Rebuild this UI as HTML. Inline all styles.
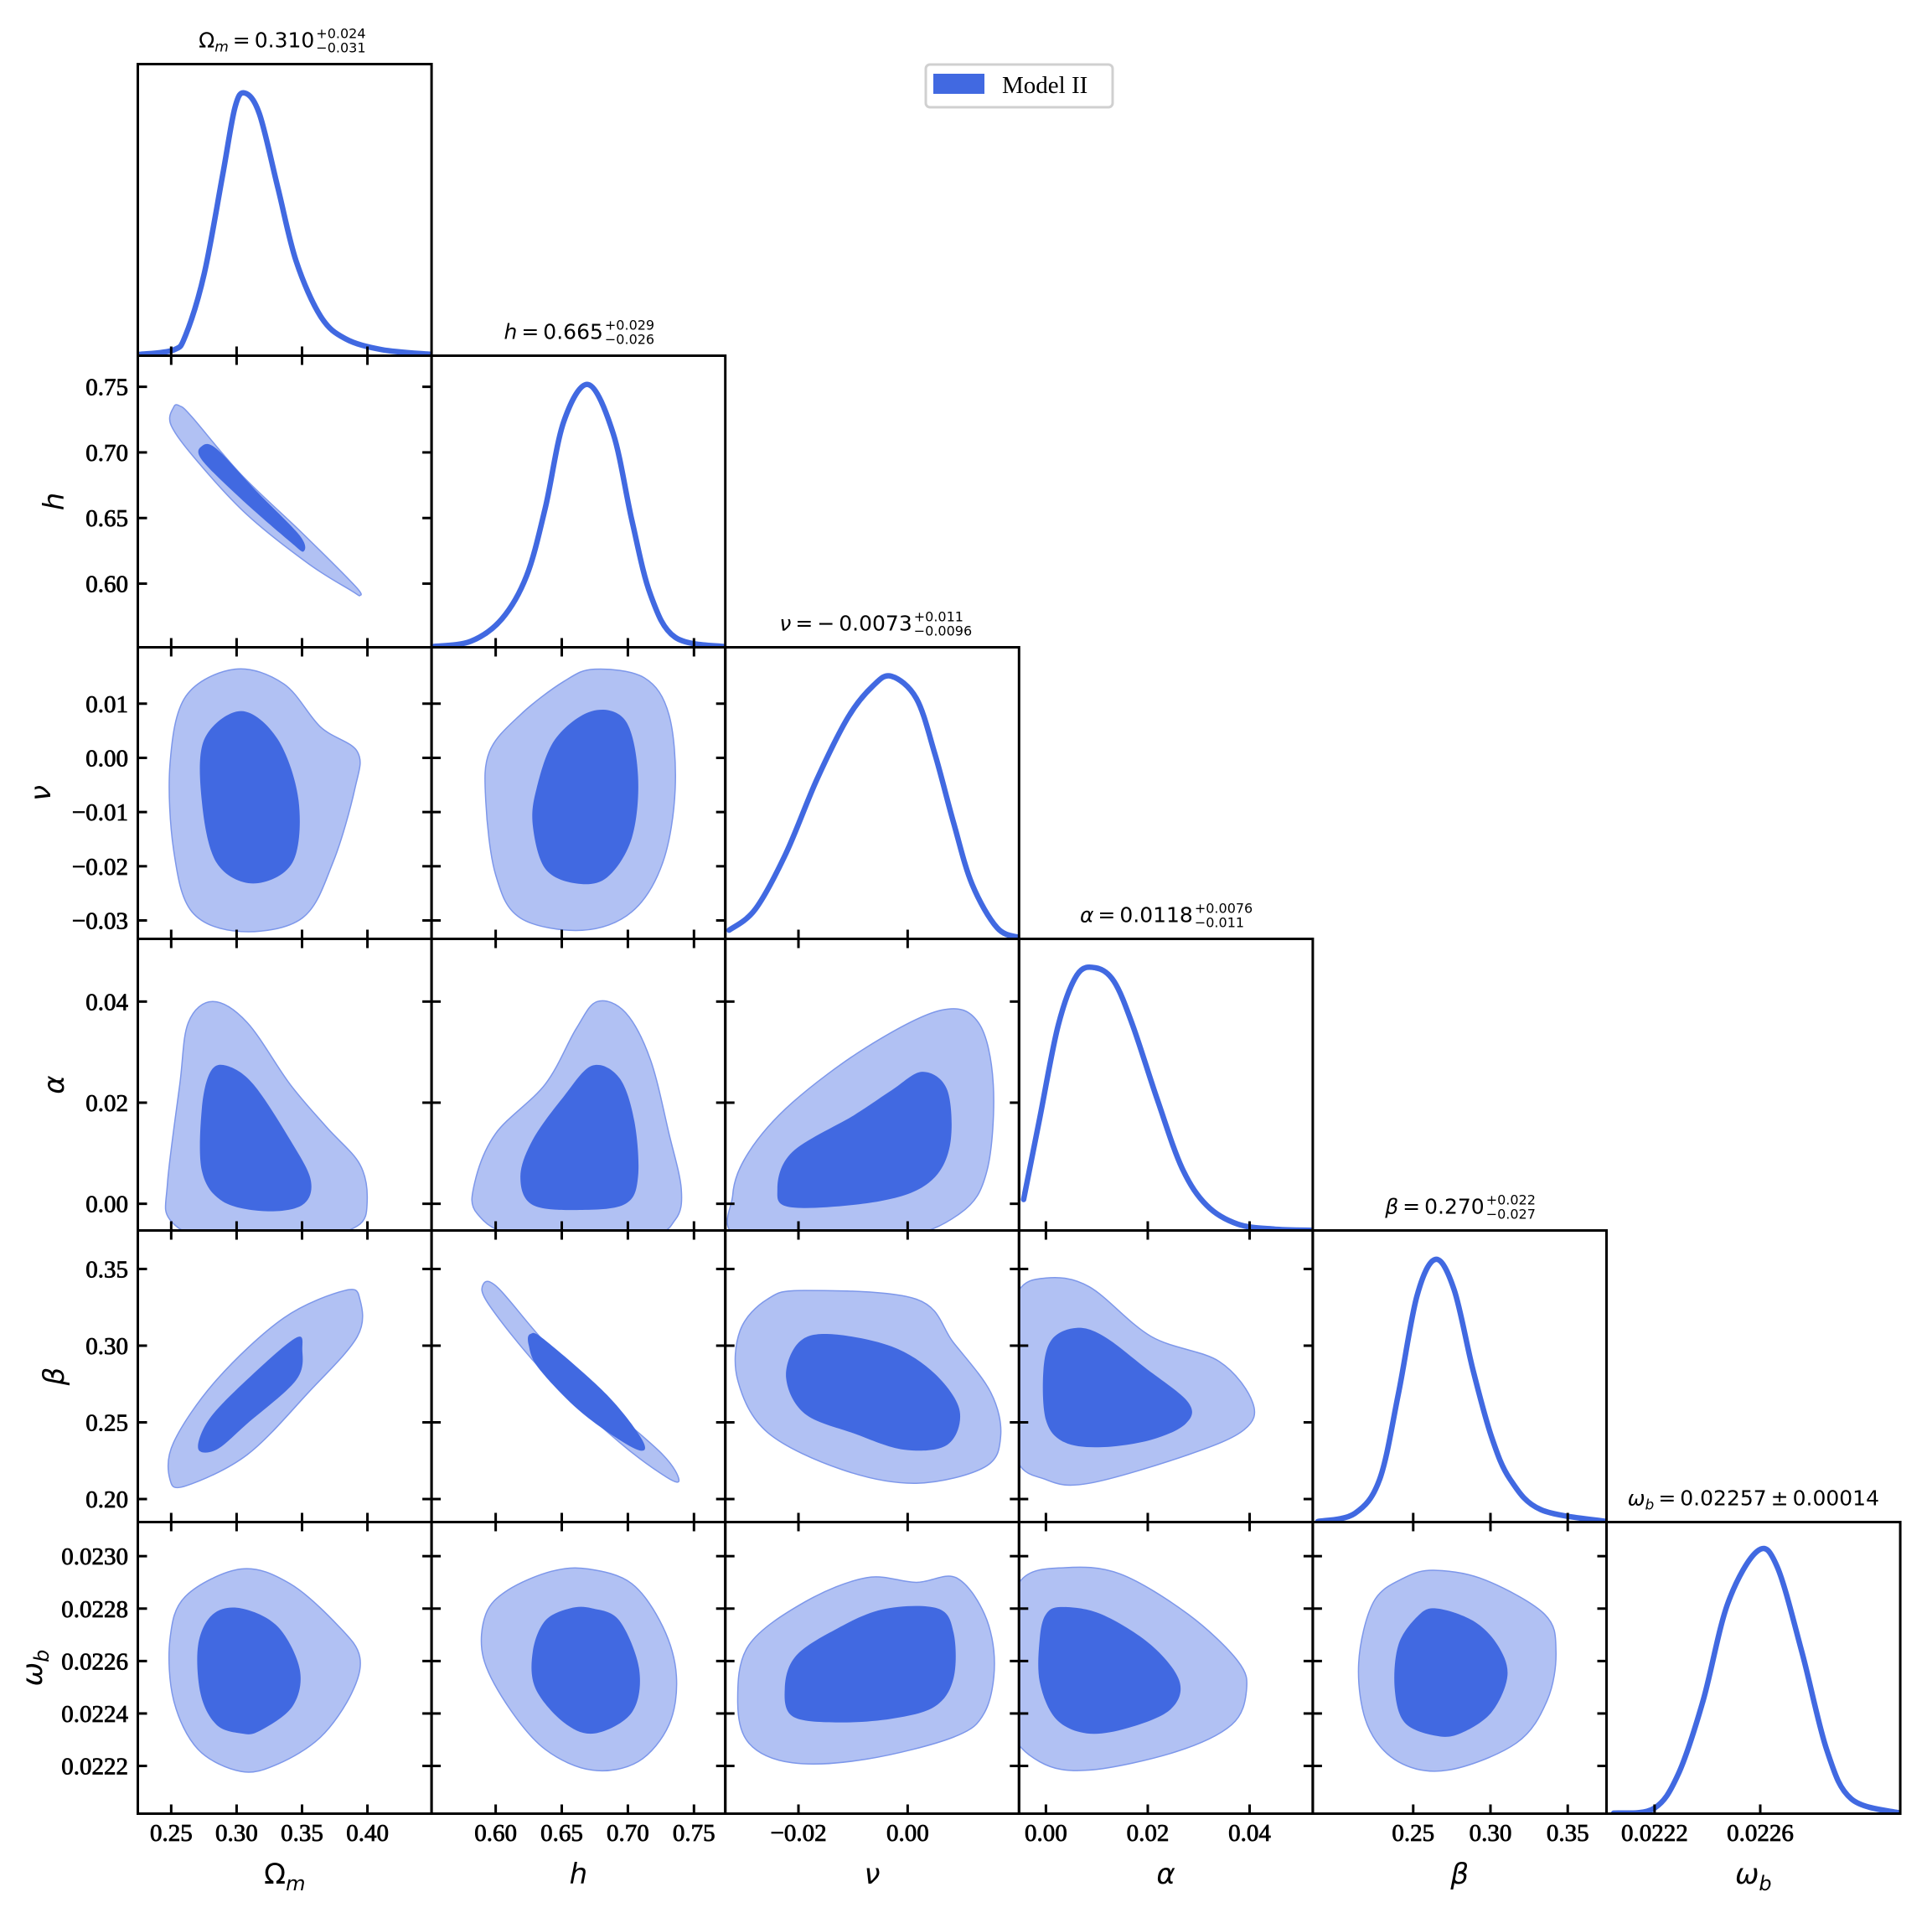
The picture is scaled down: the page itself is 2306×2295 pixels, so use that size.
<!DOCTYPE html>
<html><head><meta charset="utf-8"><title>Model II triangle plot</title>
<style>
html,body{margin:0;padding:0;background:#fff;}
svg{display:block;}
.tick{font-family:"Liberation Serif","DejaVu Serif",serif;font-size:29px;fill:#000;stroke:#000;stroke-width:0.8;}
.ttl{font-family:"DejaVu Sans","Liberation Sans",sans-serif;font-size:25px;fill:#000;}
.ttls{font-family:"DejaVu Sans","Liberation Sans",sans-serif;font-size:16px;fill:#000;}
.ax{font-family:"DejaVu Sans","Liberation Sans",sans-serif;font-size:34px;fill:#000;}
</style></head>
<body>
<svg id="fig" width="2306" height="2295" viewBox="0 0 2306 2295" xmlns="http://www.w3.org/2000/svg">
<rect x="0" y="0" width="2306" height="2295" fill="#fff"/>
<g id="legend">
<rect x="1105" y="77" width="223" height="51" rx="5" fill="#fff" stroke="#d0d0d0" stroke-width="3"/>
<rect x="1114" y="88" width="61" height="24" fill="#4169E1"/>
<text x="1196" y="111" font-family="Liberation Serif, DejaVu Serif, serif" font-size="29">Model II</text>
</g>
</svg>
<script>
// ---- parameter ranges and ticks ----
var paramNames = ["omegam","h","nu","alpha","beta","omegab"];
var rangeLo = [0.2245, 0.5515, -0.0334, -0.00528, 0.1850, 0.022018];
var rangeHi = [0.4490, 0.7737, 0.0204, 0.0524, 0.3751, 0.023130];
var xTicks = [[0.25,0.30,0.35,0.40],[0.60,0.65,0.70,0.75],[-0.02,0.00],[0.00,0.02,0.04],[0.25,0.30,0.35],[0.0222,0.0226]];
var xTickLabels = [["0.25","0.30","0.35","0.40"],["0.60","0.65","0.70","0.75"],["\u22120.02","0.00"],["0.00","0.02","0.04"],["0.25","0.30","0.35"],["0.0222","0.0226"]];
var yTicks = [[],[0.60,0.65,0.70,0.75],[-0.03,-0.02,-0.01,0.00,0.01],[0.00,0.02,0.04],[0.20,0.25,0.30,0.35],[0.0222,0.0224,0.0226,0.0228,0.0230]];
var yTickLabels = [[],["0.60","0.65","0.70","0.75"],["\u22120.03","\u22120.02","\u22120.01","0.00","0.01"],["0.00","0.02","0.04"],["0.20","0.25","0.30","0.35"],["0.0222","0.0224","0.0226","0.0228","0.0230"]];

// ---- 1D marginal densities (x values, normalized heights) ----
var m1x_omegam = [0.2257,0.2519,0.2612,0.2753,0.2893,0.2987,0.3062,0.3174,0.3315,0.3455,0.3642,0.3830,0.4110,0.4485];
var m1y_omegam = [0.005,0.022,0.08,0.313,0.687,0.944,1,0.921,0.64,0.36,0.15,0.065,0.023,0.005];
var m1x_h = [0.5532,0.5813,0.6047,0.6234,0.6375,0.6515,0.6702,0.6890,0.7030,0.7170,0.7358,0.7737];
var m1y_h = [0.003,0.023,0.108,0.272,0.53,0.859,1,0.812,0.484,0.202,0.038,0.002];
var m1x_nu = [-0.0327,-0.0279,-0.0223,-0.0166,-0.0109,-0.0064,-0.0030,0.0016,0.0050,0.0084,0.0118,0.0164,0.0204];
var m1y_nu = [0.033,0.113,0.325,0.608,0.844,0.962,1,0.915,0.703,0.443,0.208,0.042,0.005];
var m1x_alpha = [-0.00438,-0.00122,0.00243,0.00608,0.00972,0.01337,0.01702,0.02188,0.02674,0.0316,0.03768,0.04497,0.0524];
var m1y_alpha = [0.118,0.427,0.782,0.972,1,0.948,0.782,0.498,0.237,0.095,0.024,0.005,0.001];
var m1x_beta = [0.1882,0.2122,0.2283,0.2404,0.2524,0.2645,0.2765,0.2886,0.3006,0.3127,0.3327,0.3751];
var m1y_beta = [0.002,0.033,0.163,0.488,0.86,1,0.884,0.581,0.326,0.163,0.047,0.002];
var m1x_omegab = [0.022045,0.022196,0.022289,0.022383,0.022477,0.022590,0.022664,0.022758,0.022852,0.022945,0.02313];
var m1y_omegab = [0.002,0.019,0.149,0.428,0.8,1,0.94,0.614,0.242,0.056,0.002];

// ---- 2D contours: [x, y] in data units; outer = 95%, inner = 68% ----
var c_h_omegam_out = [[0.2519,0.7345],[0.25,0.7205],[0.2706,0.6925],[0.308,0.6525],[0.3549,0.6152],[0.3876,0.5947],[0.3942,0.591],[0.3904,0.5984],[0.3502,0.6385],[0.3034,0.6832],[0.2659,0.727],[0.2566,0.7354]];
var c_h_omegam_in = [[0.2734,0.7047],[0.2734,0.6944],[0.3034,0.6646],[0.3408,0.632],[0.3511,0.6245],[0.3483,0.6366],[0.3146,0.6711],[0.2846,0.7028]];
var c_nu_omegam_out = [[0.2987,0.01636],[0.3361,0.01364],[0.3642,0.00568],[0.3923,0.00114],[0.3904,-0.00568],[0.3736,-0.01932],[0.3502,-0.02955],[0.3034,-0.03205],[0.2659,-0.02841],[0.2519,-0.01705],[0.2491,-0.00114],[0.2612,0.01136]];
var c_nu_omegam_in = [[0.3034,0.00864],[0.3315,0.00341],[0.3474,-0.00795],[0.3427,-0.01932],[0.3127,-0.02318],[0.2846,-0.01932],[0.2734,-0.00795],[0.2753,0.00341]];
var c_alpha_omegam_out = [[0.2818,0.04],[0.3081,0.03585],[0.3408,0.02366],[0.3689,0.01512],[0.3942,0.0078],[0.3998,0.00049],[0.3923,-0.00439],[0.3549,-0.00683],[0.28,-0.00683],[0.2491,-0.00317],[0.2472,0.00415],[0.2566,0.02366],[0.2631,0.03585]];
var c_alpha_omegam_in = [[0.2921,0.02732],[0.3127,0.02366],[0.3408,0.01268],[0.3567,0.00463],[0.3502,-0.00024],[0.3221,-0.00146],[0.2893,0.00049],[0.2734,0.00659],[0.2734,0.01878],[0.28,0.0261]];
var c_beta_omegam_out = [[0.2491,0.2127],[0.2519,0.237],[0.2846,0.2776],[0.3361,0.3181],[0.3829,0.336],[0.3942,0.3303],[0.3923,0.306],[0.3549,0.2695],[0.3081,0.2289],[0.2612,0.2086]];
var c_beta_omegam_in = [[0.2706,0.233],[0.28,0.2532],[0.3127,0.2816],[0.3455,0.3052],[0.3502,0.2978],[0.3455,0.2776],[0.3081,0.2492],[0.2846,0.2322]];
var c_omegab_omegam_out = [[0.3034,0.022951],[0.3408,0.022895],[0.3783,0.022731],[0.3942,0.022614],[0.3876,0.022474],[0.3642,0.02231],[0.3315,0.022207],[0.3034,0.022179],[0.2706,0.022263],[0.2519,0.02245],[0.2491,0.022684],[0.2612,0.022848]];
var c_omegab_omegam_in = [[0.3034,0.022801],[0.3315,0.022731],[0.3483,0.022567],[0.3427,0.022427],[0.3174,0.022333],[0.3034,0.022324],[0.2846,0.022357],[0.2725,0.022474],[0.2706,0.022661],[0.2818,0.022778]];
var c_nu_h_out = [[0.6749,0.01636],[0.7124,0.01477],[0.7311,0.00795],[0.7358,-0.00568],[0.7264,-0.01932],[0.703,-0.02841],[0.6655,-0.03182],[0.6187,-0.02955],[0.6,-0.02159],[0.5925,-0.00795],[0.5953,0.00114],[0.6187,0.00795],[0.6515,0.01409]];
var c_nu_h_in = [[0.673,0.00864],[0.6983,0.00682],[0.7077,-0.00341],[0.703,-0.01477],[0.6843,-0.02205],[0.6609,-0.02318],[0.6375,-0.02045],[0.6281,-0.0125],[0.6309,-0.00568],[0.6449,0.00341]];
var c_alpha_h_out = [[0.6768,0.04],[0.6983,0.0378],[0.717,0.02854],[0.7311,0.0139],[0.7404,0.00293],[0.7358,-0.00317],[0.7124,-0.00634],[0.6187,-0.00634],[0.586,-0.00195],[0.5841,0.00415],[0.6,0.0139],[0.6375,0.02366],[0.6609,0.03463]];
var c_alpha_h_in = [[0.673,0.02732],[0.6936,0.02488],[0.7049,0.01634],[0.7077,0.00537],[0.6983,0],[0.6655,-0.00122],[0.6281,-0.00024],[0.6187,0.00537],[0.6281,0.01268],[0.6515,0.02122]];
var c_beta_h_out = [[0.5906,0.34],[0.6019,0.3376],[0.6375,0.3019],[0.6843,0.2614],[0.7264,0.2289],[0.7386,0.2127],[0.7292,0.2143],[0.6936,0.237],[0.6375,0.2816],[0.5953,0.3262]];
var c_beta_h_in = [[0.6262,0.3076],[0.6375,0.3035],[0.6843,0.2678],[0.7115,0.2375],[0.7049,0.2330],[0.6655,0.2560],[0.6328,0.2850],[0.6250,0.3003]];
var c_omegab_h_out = [[0.6702,0.022951],[0.703,0.022895],[0.7264,0.022731],[0.7367,0.022544],[0.7311,0.022357],[0.7077,0.022216],[0.673,0.022184],[0.6375,0.022263],[0.6094,0.022427],[0.5906,0.022614],[0.5925,0.022778],[0.6094,0.022871],[0.6421,0.022942]];
var c_omegab_h_in = [[0.673,0.022801],[0.6936,0.022754],[0.7086,0.022567],[0.703,0.022404],[0.6749,0.022324],[0.6515,0.022366],[0.63,0.022497],[0.6281,0.022637],[0.6375,0.022754],[0.6562,0.022801]];
var c_alpha_nu_out = [[0.00613,0.03829],[0.01295,0.03585],[0.01568,0.02366],[0.01454,0.00659],[0.00954,-0.00195],[-0.00295,-0.00683],[-0.03022,-0.00683],[-0.03204,0.00171],[-0.02908,0.01024],[-0.02113,0.02],[-0.0075,0.03098]];
var c_alpha_nu_in = [[0.00273,0.0261],[0.00727,0.02244],[0.00773,0.01146],[0.00386,0.00415],[-0.00523,0.00049],[-0.02113,-0.00073],[-0.02386,0.00293],[-0.02113,0.01024],[-0.00977,0.01756],[-0.00295,0.02244]];
var c_beta_nu_out = [[-0.01886,0.336],[0.00159,0.3303],[0.00841,0.3019],[0.01522,0.2695],[0.01704,0.2411],[0.01409,0.2208],[0.00159,0.2103],[-0.01204,0.2192],[-0.02568,0.2435],[-0.03113,0.2776],[-0.03067,0.31],[-0.02568,0.3303]];
var c_beta_nu_in = [[-0.01431,0.3076],[-0.00295,0.2995],[0.005,0.2816],[0.00954,0.2573],[0.00727,0.2354],[-0.00068,0.2322],[-0.00977,0.2427],[-0.01886,0.2557],[-0.02227,0.2792],[-0.02,0.3019]];
var c_omegab_nu_out = [[0.00159,0.0229],[0.00886,0.022918],[0.01409,0.022778],[0.0159,0.022591],[0.01409,0.022404],[0.00841,0.02231],[-0.0075,0.022226],[-0.02113,0.022212],[-0.02908,0.022287],[-0.03113,0.02245],[-0.02908,0.022661],[-0.01886,0.022825],[-0.0075,0.022918]];
var c_omegab_nu_in = [[0.00545,0.022801],[0.00841,0.022708],[0.00841,0.022535],[0.005,0.022427],[-0.00295,0.02238],[-0.01318,0.022366],[-0.02113,0.02239],[-0.0225,0.022497],[-0.02068,0.022614],[-0.01431,0.022708],[-0.00477,0.022796]];
var c_beta_alpha_out = [[0,0.3441],[0.00851,0.3384],[0.02066,0.306],[0.03403,0.2897],[0.04059,0.263],[0.03889,0.2451],[0.02795,0.2289],[0.00851,0.2103],[0,0.2127],[-0.00608,0.2289],[-0.00729,0.2938],[-0.00559,0.3343]];
var c_beta_alpha_in = [[0.00608,0.3116],[0.01142,0.306],[0.01945,0.2857],[0.02795,0.263],[0.02747,0.2492],[0.02066,0.2386],[0.01094,0.2338],[0.00365,0.237],[0,0.2516],[-0.00049,0.2841],[0.00122,0.3043]];
var c_omegab_alpha_out = [[0.00365,0.022956],[0.01458,0.022932],[0.02795,0.022778],[0.03768,0.0226],[0.03938,0.022488],[0.03646,0.022357],[0.02552,0.022254],[0.00851,0.022184],[-0.00122,0.022216],[-0.00729,0.022357],[-0.00851,0.022684],[-0.00486,0.022909]];
var c_omegab_alpha_in = [[0.00316,0.022806],[0.01094,0.022778],[0.02066,0.022661],[0.02625,0.022521],[0.02431,0.022413],[0.0158,0.022343],[0.00802,0.022324],[0.00194,0.02238],[-0.00122,0.022521],[-0.00122,0.022684],[0,0.022778]];
var c_omegab_beta_out = [[0.2645,0.022946],[0.2966,0.022909],[0.3351,0.022778],[0.3424,0.022637],[0.3367,0.02245],[0.3167,0.022287],[0.2725,0.022184],[0.2404,0.022216],[0.2203,0.022357],[0.2147,0.022591],[0.2243,0.022825],[0.2444,0.022918]];
var c_omegab_beta_in = [[0.2645,0.022801],[0.2886,0.022754],[0.3046,0.022661],[0.311,0.022544],[0.3006,0.022404],[0.2805,0.022324],[0.2645,0.022315],[0.2444,0.022366],[0.238,0.022497],[0.2404,0.022661],[0.2524,0.022768]];

var NS = "http://www.w3.org/2000/svg";
var svg = document.getElementById("fig");
var X0 = 164.5, W = 350.6, Y0 = 76.5, H = 348;
var BLUE = "#4169E1", LIGHT = "#b1c1f3";
var marg = {
  0:[m1x_omegam,m1y_omegam],1:[m1x_h,m1y_h],2:[m1x_nu,m1y_nu],
  3:[m1x_alpha,m1y_alpha],4:[m1x_beta,m1y_beta],5:[m1x_omegab,m1y_omegab]
};
var contours = {
  "1_0":[c_h_omegam_out,c_h_omegam_in],"2_0":[c_nu_omegam_out,c_nu_omegam_in],
  "3_0":[c_alpha_omegam_out,c_alpha_omegam_in],"4_0":[c_beta_omegam_out,c_beta_omegam_in],
  "5_0":[c_omegab_omegam_out,c_omegab_omegam_in],"2_1":[c_nu_h_out,c_nu_h_in],
  "3_1":[c_alpha_h_out,c_alpha_h_in],"4_1":[c_beta_h_out,c_beta_h_in],
  "5_1":[c_omegab_h_out,c_omegab_h_in],"3_2":[c_alpha_nu_out,c_alpha_nu_in],
  "4_2":[c_beta_nu_out,c_beta_nu_in],"5_2":[c_omegab_nu_out,c_omegab_nu_in],
  "4_3":[c_beta_alpha_out,c_beta_alpha_in],"5_3":[c_omegab_alpha_out,c_omegab_alpha_in],
  "5_4":[c_omegab_beta_out,c_omegab_beta_in]
};
function mk(tag, attrs, parent){
  var e = document.createElementNS(NS, tag);
  for (var k in attrs) e.setAttribute(k, attrs[k]);
  (parent||svg).appendChild(e);
  return e;
}
function sx(p, c, v){ return X0 + c*W + (v-rangeLo[p])/(rangeHi[p]-rangeLo[p])*W; }
function sy(p, r, v){ return Y0 + (r+1)*H - (v-rangeLo[p])/(rangeHi[p]-rangeLo[p])*H; }
function closedPath(pts){
  var n = pts.length, d = "M"+pts[0][0].toFixed(2)+","+pts[0][1].toFixed(2);
  for (var i=0;i<n;i++){
    var p0=pts[(i-1+n)%n], p1=pts[i], p2=pts[(i+1)%n], p3=pts[(i+2)%n];
    var c1x=p1[0]+(p2[0]-p0[0])/6, c1y=p1[1]+(p2[1]-p0[1])/6;
    var c2x=p2[0]-(p3[0]-p1[0])/6, c2y=p2[1]-(p3[1]-p1[1])/6;
    d += "C"+c1x.toFixed(2)+","+c1y.toFixed(2)+" "+c2x.toFixed(2)+","+c2y.toFixed(2)+" "+p2[0].toFixed(2)+","+p2[1].toFixed(2);
  }
  return d+"Z";
}
function openPath(pts){
  var n = pts.length, d = "M"+pts[0][0].toFixed(2)+","+pts[0][1].toFixed(2);
  for (var i=0;i<n-1;i++){
    var p0=pts[Math.max(i-1,0)], p1=pts[i], p2=pts[i+1], p3=pts[Math.min(i+2,n-1)];
    var c1x=p1[0]+(p2[0]-p0[0])/6, c1y=p1[1]+(p2[1]-p0[1])/6;
    var c2x=p2[0]-(p3[0]-p1[0])/6, c2y=p2[1]-(p3[1]-p1[1])/6;
    d += "C"+c1x.toFixed(2)+","+c1y.toFixed(2)+" "+c2x.toFixed(2)+","+c2y.toFixed(2)+" "+p2[0].toFixed(2)+","+p2[1].toFixed(2);
  }
  return d;
}
var defs = mk("defs", {});
var TL = 11;
for (var r=0;r<6;r++){
  for (var c=0;c<=r;c++){
    var px = X0+c*W, py = Y0+r*H;
    var g = mk("g", {});
    
    
    var cp = mk("clipPath", {id:"clip"+r+"_"+c}, defs);
    mk("rect", {x:px, y:py, width:W, height:H}, cp);
    var inner = mk("g", {"clip-path":"url(#clip"+r+"_"+c+")"}, g);
    if (r===c){
      var mx = marg[r][0], my = marg[r][1], pts=[];
      for (var i=0;i<mx.length;i++){
        pts.push([sx(r,c,mx[i]), py+H - my[i]/1.11*H]);
      }
      var ln = mk("path", {d:openPath(pts), fill:"none", stroke:BLUE, "stroke-width":6.5, "stroke-linejoin":"round", "stroke-linecap":"round"}, inner);
      
      
    } else {
      var cs = contours[r+"_"+c];
      for (var k=0;k<2;k++){
        var pts2=[];
        for (var j=0;j<cs[k].length;j++) pts2.push([sx(c,c,cs[k][j][0]), sy(r,r,cs[k][j][1])]);
        var pth = mk("path", {d:closedPath(pts2), fill:(k===0?LIGHT:BLUE), stroke:(k===0?"#7d97ea":"none"), "stroke-width":1.5}, inner);
        
        
      }
    }
    var tg = mk("g", {stroke:"#000","stroke-width":3}, g);
    for (var t=0;t<xTicks[c].length;t++){
      var tx = sx(c,c,xTicks[c][t]);
      mk("line",{x1:tx,y1:py+H,x2:tx,y2:py+H-TL},tg);
      if (r!==c) mk("line",{x1:tx,y1:py,x2:tx,y2:py+TL},tg);
    }
    if (r!==c){
      for (var t2=0;t2<yTicks[r].length;t2++){
        var ty = sy(r,r,yTicks[r][t2]);
        mk("line",{x1:px,y1:ty,x2:px+TL,y2:ty},tg);
        mk("line",{x1:px+W,y1:ty,x2:px+W-TL,y2:ty},tg);
      }
    }
    var fr = mk("rect",{x:px,y:py,width:W,height:H,fill:"none",stroke:"#000","stroke-width":3},g);
    
    
  }
}
for (var c2=0;c2<6;c2++){
  for (var t3=0;t3<xTicks[c2].length;t3++){
    var lbl = mk("text",{x:sx(c2,c2,xTicks[c2][t3]), y:2197, "text-anchor":"middle", "class":"tick"});
    lbl.textContent = xTickLabels[c2][t3];
    
    
  }
}
for (var r2=1;r2<6;r2++){
  for (var t4=0;t4<yTicks[r2].length;t4++){
    var yl = mk("text",{x:153, y:sy(r2,r2,yTicks[r2][t4])+10, "text-anchor":"end", "class":"tick"});
    yl.textContent = yTickLabels[r2][t4];
    
    
  }
}
var axSym = ["\u03A9","h","\u03BD","\u03B1","\u03B2","\u03C9"];
var axSub = ["m","","","","","b"];
var axItal = [false,true,true,true,true,true];
function axisLabel(i, x, y, rot){
  var t = mk("text",{x:x,y:y,"text-anchor":"middle","class":"ax"});
  if (rot) t.setAttribute("transform","rotate(-90 "+x+" "+y+")");
  var s1 = mk("tspan",{"font-style":axItal[i]?"italic":"normal"},t); s1.textContent = axSym[i];
  if (axSub[i]){ var s2 = mk("tspan",{"font-style":"italic",style:"font-size:24px",dy:"8"},t); s2.textContent = axSub[i]; }
  return t;
}
var yLabelX = [0, 76, 60, 76, 76, 50];
for (var a=0;a<6;a++){
  var xl = axisLabel(a, X0+a*W+W/2, 2248, false);
  
  
  if (a>0){
    var ylb = axisLabel(a, yLabelX[a], Y0+a*H+H/2, true);
    
    
  }
}
var tSym = ["\u03A9","h","\u03BD","\u03B1","\u03B2","\u03C9"];
var tSub = ["m","","","","","b"];
var tVal = ["\u2009=\u20090.310","\u2009=\u20090.665","\u2009=\u2009\u2212\u20090.0073","\u2009=\u20090.0118","\u2009=\u20090.270","\u2009=\u20090.02257\u2009\u00B1\u20090.00014"];
var tUp = ["+0.024","+0.029","+0.011","+0.0076","+0.022",""];
var tDn = ["\u22120.031","\u22120.026","\u22120.0096","\u22120.011","\u22120.027",""];
for (var q=0;q<6;q++){
  var cx = X0+q*W+W/2, base = Y0+q*H-20;
  var tg2 = mk("g",{});
  
  
  var est1 = (tVal[q].length-2)*15.5 + 8 + (tSub[q]?12:0) + 18;
  var est2 = tUp[q] ? Math.max(tUp[q].length, tDn[q].length)*10 : 0;
  var split = cx - (est1+est2)/2 + est1;
  var mt = mk("text",{x:split,y:base,"class":"ttl","text-anchor":tUp[q]?"end":"middle"},tg2);
  if (!tUp[q]) mt.setAttribute("x", cx);
  var a1 = mk("tspan",{"font-style":q===0?"normal":"italic"},mt); a1.textContent = tSym[q];
  if (tSub[q]){ var a2 = mk("tspan",{"font-style":"italic",style:"font-size:17px",dy:"5"},mt); a2.textContent = tSub[q]; var a3 = mk("tspan",{dy:"-5"},mt); a3.textContent = tVal[q]; }
  else { var a4 = mk("tspan",{},mt); a4.textContent = tVal[q]; }
  if (tUp[q]){
    var up = mk("text",{x:split+2,y:base-11,"class":"ttls","text-anchor":"start"},tg2); up.textContent = tUp[q];
    var dn = mk("text",{x:split+2,y:base+6,"class":"ttls","text-anchor":"start"},tg2); dn.textContent = tDn[q];
  }
}
</script>
</body></html>
